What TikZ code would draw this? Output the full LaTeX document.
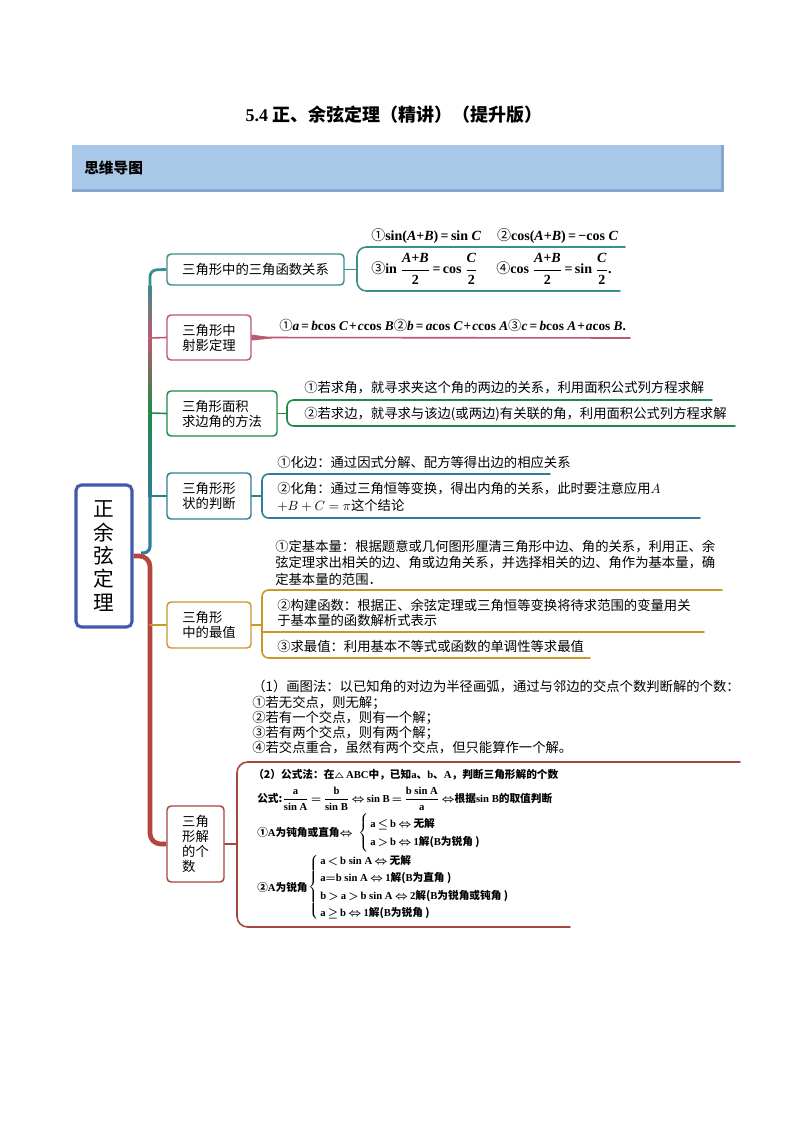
\documentclass[tikz,border=0pt]{standalone}
\usepackage[no-math]{fontspec}
\usepackage{amsmath}
\setmainfont{Noto Sans CJK SC}
\newfontfamily\lat{Liberation Serif}
\newfontfamily\cjk{Noto Sans CJK SC}
\usetikzlibrary{calc}
\newdimen\pxu \pxu=0.75pt
\newcommand\tv[1]{\textit{#1}}
\newcommand\mt[1]{\text{\lat #1}}
\newcommand\cn[1]{{\cjk\mdseries #1}}
\newcommand\eqs{\,=\,}
\newcommand\pls{\hspace{0.8pt}+\hspace{0.8pt}}
\newcommand\tightmath{\thickmuskip=3mu\relax\medmuskip=2mu\relax}
\definecolor{cA}{HTML}{3A8E8C}
\definecolor{cB}{HTML}{BB5A6E}
\definecolor{cC}{HTML}{1F8A4A}
\definecolor{cD}{HTML}{2F7D97}
\definecolor{cE}{HTML}{C8982C}
\definecolor{cF}{HTML}{A8463D}
\definecolor{trunk}{HTML}{B4473D}
\definecolor{rootc}{HTML}{4358A8}
\definecolor{hdr}{HTML}{A9C7E6}
\definecolor{hdrd}{HTML}{86A7CD}
\begin{document}
\begin{tikzpicture}[x=0.75pt,y=-0.75pt,
  bx/.style={draw=#1, rounded corners=3pt, line width=1.1pt, fill=white, inner sep=0pt, align=left, font=\fontsize{10}{11.25}\selectfont},
  ln/.style={anchor=west, inner sep=0pt, font=\fontsize{10}{12}\selectfont, text height=8.5pt, text depth=1.5pt},
  fm/.style={anchor=west, inner sep=0pt, font=\fontsize{10.5}{12}\selectfont\lat\bfseries\boldmath},
  sm/.style={anchor=west, inner sep=0pt, font=\fontsize{8}{10}\selectfont\bfseries\boldmath},
  lk/.style={line width=1.2pt, line cap=round},
  brk/.style={line width=1.2pt, rounded corners=5pt, line cap=round},
]
\fill[white] (0,0) rectangle (794,1123);
\useasboundingbox (0,0) rectangle (794,1123);

% title and header
\node[font=\fontsize{13.5}{15}\selectfont\bfseries, inner sep=0] (title) at (394,115) {{\lat 5.4} 正、余弦定理（精讲）（提升版）};
\node[fill=hdr, minimum width=650\pxu, minimum height=45\pxu, inner sep=0, anchor=north west] (hbar) at (72,145) {};
\draw[hdrd, line width=1.6pt] (hbar.south west) -- (hbar.south east) -- (hbar.north east);
\node[anchor=west, inner sep=0, font=\fontsize{11}{12}\selectfont\bfseries] (htitle) at (84,168) {思维导图};

% root
\node[draw=rootc, line width=2.3pt, rounded corners=4pt, minimum width=56\pxu, minimum height=142\pxu, align=center, font=\fontsize{15.5}{17.5}\selectfont, inner sep=0] (root) at (104,556) {正\\余\\弦\\定\\理};

% boxes
\node[bx=cA, minimum width=177\pxu, minimum height=31\pxu] (b1) at (255.5,269.5) {三角形中的三角函数关系};
\node[bx=cB, minimum width=84\pxu, minimum height=45\pxu] (b2) at (209,337.5) {三角形中\\射影定理};
\node[bx=cC, minimum width=110\pxu, minimum height=45\pxu] (b3) at (222,413.5) {三角形面积\\求边角的方法};
\node[bx=cD, minimum width=84\pxu, minimum height=46\pxu] (b4) at (209,496) {三角形形\\状的判断};
\node[bx=cE, minimum width=84\pxu, minimum height=46\pxu] (b5) at (209,625) {三角形\\中的最值};
\node[bx=cF, minimum width=57\pxu, minimum height=76\pxu] (b6) at (195.5,844) {三角\\形解\\的个\\数};

% trunk
\shade[top color=cA, bottom color=cB] (148.6,285) rectangle (151.4,338);
\shade[top color=cB, bottom color=cC] (148.6,338) rectangle (151.4,413);
\shade[top color=cC, bottom color=cD] (148.6,413) rectangle (151.4,497);
\draw[cA, line width=2.1pt, rounded corners=5pt] (150,290) -- (150,270) -- (b1.west);
\draw[cB, lk] (150,338) -- (b2.west);
\draw[cC, lk] (150,413) -- (b3.west);
\draw[cD, lk] (150,496) -- (b4.west);
\draw[cD, line width=2.3pt, rounded corners=5pt] (150,490) -- (150,553) -- (141,553);
\draw[trunk, line width=3.5pt, rounded corners=8pt] (root.east) -- (150,556) -- (150,844) -- (b6.west);
\draw[cE, lk] (150,625) -- (b5.west);

% branch 1
\draw[cA, lk] (b1.east) -- (357,269.5);
\draw[cA, brk, rounded corners=7pt] (625,247) -- (357,247) -- (357,291) -- (620,291);
\node[fm] (f1a) at (371,236) {\cn{①}sin(\tv{A}+\tv{B})\eqs sin \tv{C}\hspace{12pt}\cn{②}cos(\tv{A}+\tv{B})\eqs −cos \tv{C}};
\node[fm] (f1b) at (371,269) {\cn{③}in $\dfrac{\text{\itshape A+B}}{\text{2}}$\eqs cos $\dfrac{\text{\itshape C}}{\text{2}}$\hspace{14pt}\cn{④}cos $\dfrac{\text{\itshape A+B}}{\text{2}}$\eqs sin $\dfrac{\text{\itshape C}}{\text{2}}$.};

% branch 2
\fill[cB] ($(b2.east)+(0,-3)$) -- (272,337.6) -- (272,338.4) -- ($(b2.east)+(0,3)$) -- cycle;
\coordinate (e2) at (630,338);
\draw[cB, lk] (b2.east) -- (e2);
\node[fm, font=\fontsize{10}{12}\selectfont\lat\bfseries] (f2) at (279,325) {\cn{①}\tv{a}\eqs\tv{b}cos \tv{C}\pls\tv{c}cos \tv{B}\cn{②}\tv{b}\eqs\tv{a}cos \tv{C}\pls\tv{c}cos \tv{A}\cn{③}\tv{c}\eqs\tv{b}cos \tv{A}\pls\tv{a}cos \tv{B}.};

% branch 3
\draw[cC, lk] (b3.east) -- (287,413.5);
\draw[cC, brk] (712,400) -- (287,400) -- (287,426) -- (735,426);
\node[ln] (t3a) at (304,388) {①若求角，就寻求夹这个角的两边的关系，利用面积公式列方程求解};
\node[ln] (t3b) at (304,414) {②若求边，就寻求与该边(或两边)有关联的角，利用面积公式列方程求解};

% branch 4
\draw[cD, lk] (b4.east) -- (262,496);
\draw[cD, brk] (550,474) -- (262,474) -- (262,518) -- (700,518);
\node[ln] (t4a) at (277,463) {①化边：通过因式分解、配方等得出边的相应关系};
\node[ln] (t4b) at (277,489) {②化角：通过三角恒等变换，得出内角的关系，此时要注意应用$A$};
\node[ln] (t4c) at (277,506) {$+B+C=\pi$这个结论};

% branch 5
\draw[cE, lk] (b5.east) -- (262,625);
\draw[cE, brk] (722,590) -- (262,590) -- (262,658) -- (590,658);
\draw[cE, lk] (262,632) -- (704,632);
\node[ln] (t5a) at (275,547) {①定基本量：根据题意或几何图形厘清三角形中边、角的关系，利用正、余};
\node[ln] (t5b) at (275,563) {弦定理求出相关的边、角或边角关系，并选择相关的边、角作为基本量，确};
\node[ln] (t5c) at (275,580) {定基本量的范围．};
\node[ln] (t5d) at (277,606) {②构建函数：根据正、余弦定理或三角恒等变换将待求范围的变量用关};
\node[ln] (t5e) at (277,621) {于基本量的函数解析式表示};
\node[ln] (t5f) at (277,647) {③求最值：利用基本不等式或函数的单调性等求最值};

% branch 6
\draw[cF, lk] (b6.east) -- (237,844);
\draw[cF, brk, rounded corners=8pt] (740,762) -- (237,762) -- (237,927) -- (570,927);
\node[ln] (t6a) at (252,687) {（1）画图法：以已知角的对边为半径画弧，通过与邻边的交点个数判断解的个数：};
\node[ln] (t6b) at (252,703) {①若无交点，则无解；};
\node[ln] (t6c) at (252,718) {②若有一个交点，则有一个解；};
\node[ln] (t6d) at (252,733) {③若有两个交点，则有两个解；};
\node[ln] (t6e) at (252,748) {④若交点重合，虽然有两个交点，但只能算作一个解。};

\node[sm] (p1) at (253,775) {（2）公式法：在$\scriptstyle\triangle$\,{\lat ABC}中，已知{\lat a}、{\lat b}、{\lat A}，判断三角形解的个数};
\node[sm] (p2) at (257,799) {\tightmath 公式:$\dfrac{\mt{a}}{\mt{sin A}}=\dfrac{\mt{b}}{\mt{sin B}}\Leftrightarrow\mt{sin B}=\dfrac{\mt{b sin A}}{\mt{a}}\Leftrightarrow$根据{\lat sin B}的取值判断};
\node[sm] (p3) at (257,832) {①{\lat A}为钝角或直角$\Leftrightarrow$};
\node[sm] (p3b) at (358,833) {\tightmath\def\arraystretch{1.35}$\left\{\hspace{1.5pt}\begin{array}{@{}l@{}}\mt{a}\le\mt{b}\Leftrightarrow\text{无解}\\ \mt{a}>\mt{b}\Leftrightarrow\text{{\lat 1}解({\lat B}为锐角 )}\end{array}\right.$};
\node[sm] (p4) at (257,887) {②{\lat A}为锐角};
\node[sm] (p4b) at (308,887) {\tightmath\def\arraystretch{1.3}$\left\{\hspace{1.5pt}\begin{array}{@{}l@{}}\mt{a}<\mt{b sin A}\Leftrightarrow\text{无解}\\ \mt{a}{=}\mt{b sin A}\Leftrightarrow\text{{\lat 1}解({\lat B}为直角 )}\\ \mt{b}>\mt{a}>\mt{b sin A}\Leftrightarrow\text{{\lat 2}解({\lat B}为锐角或钝角 )}\\ \mt{a}\ge\mt{b}\Leftrightarrow\text{{\lat 1}解({\lat B}为锐角 )}\end{array}\right.$};
\end{tikzpicture}
\end{document}
